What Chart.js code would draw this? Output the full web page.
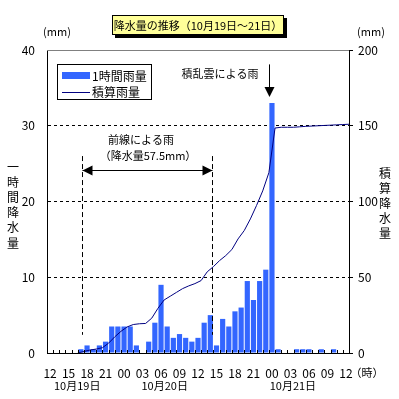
<!DOCTYPE html>
<html><head><meta charset="utf-8">
<script src="https://cdn.jsdelivr.net/npm/chart.js@4"></script>
<style>html,body{margin:0;padding:0;background:#fff}#wrap{width:399px;height:399px}</style>
</head><body><div id="wrap"><canvas id="c" width="399" height="399"></canvas></div>
<script>
// ---- data ----
const hourLabels = ['12','13','14','15','16','17','18','19','20','21','22','23',
  '00','01','02','03','04','05','06','07','08','09','10','11',
  '12','13','14','15','16','17','18','19','20','21','22','23',
  '00','01','02','03','04','05','06','07','08','09','10','11','12'];
const hourlyRain = [0,0,0,0,0, 0.5,1.0,0.5,1.0,1.5, 3.5,3.5,3.5,3.5,1.0, 0,1.5,4.0,9.0,3.5,
  2.0,2.5,2.0,1.5,2.0, 4.0,5.0,1.0,4.5,3.5, 5.5,6.0,9.5,7.0,9.5, 11.0,33.0,0.5,0,0,
  0.5,0.5,0.5,0,0.5, 0,0.5,0,0];
const cumHours = [4.5,5.5,6.5,7.5,8.5,9.5,10.5,11.5,12.5,13.5,14.5,15.5,16.5,17.5,18.5,19.5,
  20.5,21.5,22.5,23.5,24.5,25.5,26.5,27.5,28.5,29.5,30.5,31.5,32.5,33.5,34.5,35.5,36.5,
  37.5,38.5,39.5,40.5,41.5,42.5,43.5,44.5,45.5,46.5,47.5,48.5];
const cumRain = [0,1,2,2.6,3.5,6.5,10.7,14.3,17.2,18.8,19.3,19.5,23,29.5,35,37.5,
  40,42.5,44.3,45.8,47.8,53.6,57,61,64.3,68.3,75.3,80.8,88.5,97.4,107,119,148.5,
  149,149,149,149.3,149.6,149.8,150,150.2,150.4,150.6,150.8,151];
const dateLabels = ['10月19日','10月20日','10月21日'];
const datePos = [4.4, 18.6, 39.4];
const frontSpan = [5.1, 26.3];
const stormPos = 35.5;
const chartTitle = '降水量の推移（10月19日～21日）';
const yTitleLeft = '一時間降水量';
const yTitleRight = '積算降水量';

const JP = "'Noto Sans CJK JP', sans-serif";
const NUM = "'Liberation Sans Narrow', 'Noto Sans CJK JP', sans-serif";
const BAR = '#3366FF', LINE = '#000080';

function txt(ctx, s, x, y, font, align, base) {
  ctx.font = font; ctx.textAlign = align || 'left'; ctx.textBaseline = base || 'middle';
  ctx.fillStyle = '#000'; ctx.fillText(s, x, y);
}

const deco = {
  id: 'deco',
  afterDraw(chart) {
    const {ctx, chartArea: a, scales} = chart;
    const xs = scales.x, y = scales.y;
    ctx.save();
    ctx.lineWidth = 1;
    // top frame
    ctx.strokeStyle = '#808080';
    ctx.beginPath(); ctx.moveTo(a.left, a.top + 0.5); ctx.lineTo(a.right, a.top + 0.5); ctx.stroke();
    // inward hour ticks
    ctx.strokeStyle = '#000'; ctx.beginPath();
    for (let k = 0; k <= hourLabels.length; k++) {
      const px = Math.round(xs.getPixelForValue(k - 0.5)) + 0.5;
      ctx.moveTo(px, a.bottom); ctx.lineTo(px, a.bottom - 3);
    }
    ctx.stroke();
    // front rain dashed verticals
    ctx.setLineDash([5, 3]); ctx.beginPath();
    for (const h of frontSpan) {
      const px = Math.round(xs.getPixelForValue(h)) + 0.5;
      ctx.moveTo(px, y.getPixelForValue(26)); ctx.lineTo(px, y.getPixelForValue(2.4));
    }
    ctx.stroke(); ctx.setLineDash([]);
    // double arrow
    const ay = Math.round(y.getPixelForValue(24.2)) + 0.5;
    const x1 = Math.round(xs.getPixelForValue(frontSpan[0])) + 0.5;
    const x2 = Math.round(xs.getPixelForValue(frontSpan[1])) + 0.5;
    ctx.beginPath(); ctx.moveTo(x1, ay); ctx.lineTo(x2, ay); ctx.stroke();
    ctx.fillStyle = '#000';
    ctx.beginPath(); ctx.moveTo(x1, ay); ctx.lineTo(x1 + 10, ay - 5); ctx.lineTo(x1 + 10, ay + 5); ctx.closePath(); ctx.fill();
    ctx.beginPath(); ctx.moveTo(x2, ay); ctx.lineTo(x2 - 10, ay - 5); ctx.lineTo(x2 - 10, ay + 5); ctx.closePath(); ctx.fill();
    txt(ctx, '前線による雨', 141, y.getPixelForValue(28.1), '11px ' + JP, 'center');
    txt(ctx, '（降水量57.5mm）', 148, y.getPixelForValue(26.0), '11px ' + NUM, 'center');
    // storm arrow
    const sx = Math.round(xs.getPixelForValue(stormPos)) + 0.5;
    const sTop = y.getPixelForValue(38.1), sTip = y.getPixelForValue(33.8);
    ctx.beginPath(); ctx.moveTo(sx, sTop); ctx.lineTo(sx, sTip - 8); ctx.stroke();
    ctx.beginPath(); ctx.moveTo(sx, sTip); ctx.lineTo(sx - 5, sTip - 10); ctx.lineTo(sx + 5, sTip - 10); ctx.closePath(); ctx.fill();
    txt(ctx, '積乱雲による雨', sx - 11, y.getPixelForValue(36.9), '11px ' + JP, 'right');
    // legend
    const ds = chart.data.datasets;
    ctx.fillStyle = '#fff'; ctx.fillRect(57, 64, 94, 35);
    ctx.strokeStyle = '#000'; ctx.strokeRect(57.5, 64.5, 94, 35);
    ctx.fillStyle = BAR; ctx.fillRect(62, 72, 28, 7);
    ctx.strokeStyle = LINE; ctx.beginPath(); ctx.moveTo(62, 92.5); ctx.lineTo(90, 92.5); ctx.stroke();
    txt(ctx, ds[0].label, 92, 76, '12px ' + NUM);
    txt(ctx, ds[1].label, 92, 92, '12px ' + JP);
    // chart title box
    ctx.fillStyle = '#000'; ctx.fillRect(115, 18, 172, 20);
    ctx.fillStyle = '#FFFF99'; ctx.fillRect(112, 15, 172, 20);
    ctx.strokeStyle = '#000'; ctx.strokeRect(112.5, 15.5, 171, 19);
    txt(ctx, chartTitle, 198, 25.5, '11px ' + NUM, 'center');
    // units
    txt(ctx, '(mm)', 57, 32, '11px ' + NUM, 'center');
    txt(ctx, '(mm)', 371, 32, '11px ' + NUM, 'center');
    txt(ctx, '（時）', 367, 373, '11px ' + JP, 'center');
    // vertical axis titles
    for (let i = 0; i < yTitleLeft.length; i++) txt(ctx, yTitleLeft[i], 13, 167 + i * 15.2, '12px ' + JP, 'center');
    for (let i = 0; i < yTitleRight.length; i++) txt(ctx, yTitleRight[i], 385, 173 + i * 15.2, '12px ' + JP, 'center');
    // date labels
    for (let i = 0; i < dateLabels.length; i++)
      txt(ctx, dateLabels[i], xs.getPixelForValue(datePos[i]), 385.5, '11px ' + NUM, 'center');
    ctx.restore();
  }
};

new Chart(document.getElementById('c'), {
  type: 'bar',
  data: {
    datasets: [
      { type: 'bar', label: '1時間雨量', data: hourlyRain.map((v, i) => ({x: i, y: v})),
        xAxisID: 'x', yAxisID: 'y',
        backgroundColor: BAR, barPercentage: 0.84, categoryPercentage: 1.0, order: 1 },
      { type: 'line', label: '積算雨量', data: cumHours.map((h, i) => ({x: h, y: cumRain[i]})),
        xAxisID: 'x', yAxisID: 'y2', borderColor: LINE, borderWidth: 1, pointRadius: 0,
        tension: 0, fill: false, order: 0 }
    ]
  },
  options: {
    responsive: false, animation: false,
    layout: { padding: { top: 50, left: 0, right: 0, bottom: 0 } },
    plugins: { legend: { display: false }, tooltip: { enabled: false } },
    scales: {
      x: {
        type: 'linear', min: -0.5, max: 48.5, offset: false,
        grid: { display: false, drawTicks: false, offset: false },
        border: { display: true, color: '#000', width: 1 },
        afterBuildTicks: s => {
          s.ticks = hourLabels.map((l, i) => ({value: i})).filter(t => t.value % 3 === 0);
        },
        ticks: { autoSkip: false, maxRotation: 0, minRotation: 0, padding: 13, color: '#000',
          font: { family: NUM, size: 12 },
          callback: v => hourLabels[v] },
        afterFit: s => { s.height = 46; }
      },
      y: {
        position: 'left', min: 0, max: 40,
        ticks: { stepSize: 10, padding: 12, color: '#000', font: { family: NUM, size: 12 } },
        grid: { drawTicks: false, lineWidth: 1,
          color: c => (c.tick && c.tick.value > 0 && c.tick.value < 40) ? '#000' : 'rgba(0,0,0,0)' },
        border: { display: true, color: '#000', width: 1, dash: [3, 3] },
        afterFit: s => { s.width = 47; }
      },
      y2: {
        position: 'right', min: 0, max: 200,
        ticks: { stepSize: 50, padding: 5, color: '#000', font: { family: NUM, size: 12 } },
        grid: { drawOnChartArea: false, drawTicks: true, tickLength: 4, tickColor: '#000' },
        border: { display: true, color: '#000', width: 1 },
        afterFit: s => { s.width = 50; }
      }
    }
  },
  plugins: [deco]
});
</script>
</body></html>
